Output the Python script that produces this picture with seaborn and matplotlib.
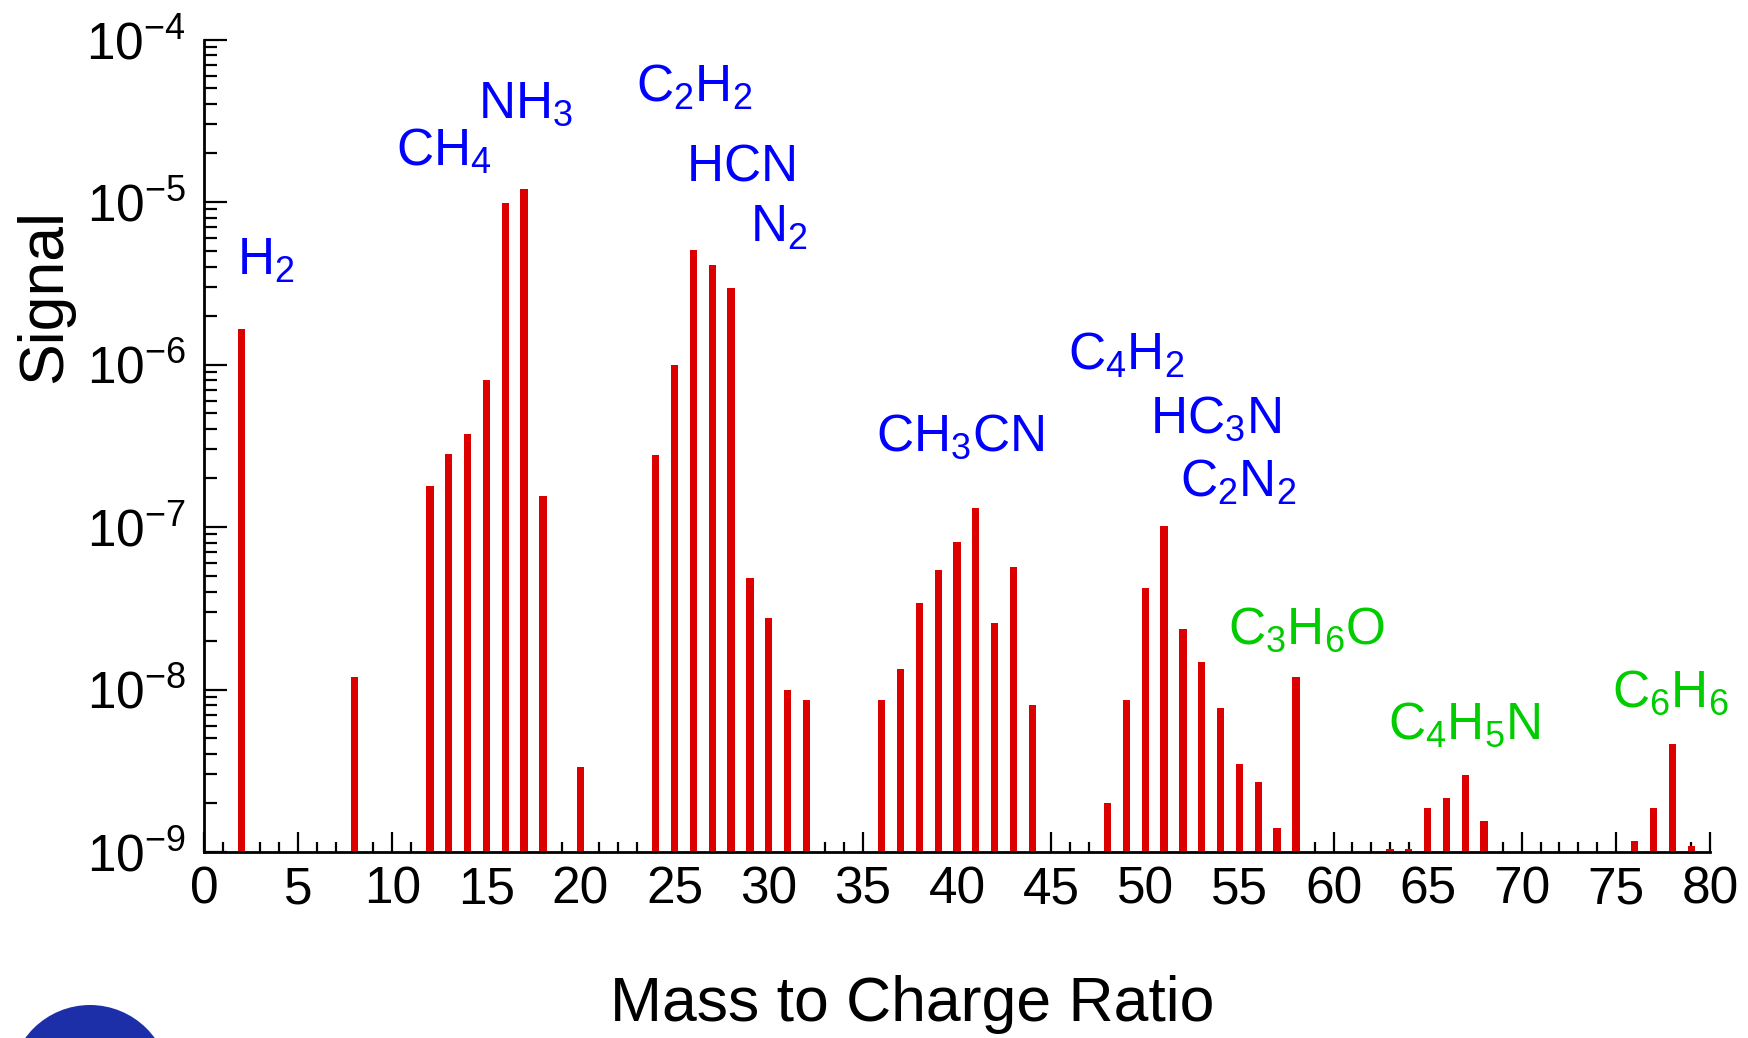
import numpy as np
import matplotlib
matplotlib.use("Agg")
import matplotlib.pyplot as plt
import matplotlib.ticker as ticker
from matplotlib.patches import Ellipse
import pandas as pd
import seaborn as sns

# mass spectrum values
masses = [2, 8, 12, 13, 14, 15, 16, 17, 18, 20,
          24, 25, 26, 27, 28, 29, 30, 31, 32,
          36, 37, 38, 39, 40, 41, 42, 43, 44,
          48, 49, 50, 51, 52, 53, 54, 55, 56, 57, 58,
          63, 64, 65, 66, 67, 68, 76, 77, 78, 79]
signal = [1.65e-6, 1.19e-8, 1.8e-7, 2.8e-7, 3.73e-7, 8.0e-7, 9.8e-6, 1.21e-5, 1.56e-7, 3.33e-9,
          2.77e-7, 1.0e-6, 5.1e-6, 4.1e-6, 2.97e-6, 4.87e-8, 2.74e-8, 9.9e-9, 8.6e-9,
          8.6e-9, 1.33e-8, 3.42e-8, 5.44e-8, 8.1e-8, 1.3e-7, 2.55e-8, 5.7e-8, 8.0e-9,
          2.0e-9, 8.6e-9, 4.23e-8, 1.01e-7, 2.37e-8, 1.47e-8, 7.7e-9, 3.46e-9, 2.68e-9, 1.4e-9, 1.19e-8,
          1.05e-9, 1.05e-9, 1.87e-9, 2.16e-9, 2.98e-9, 1.56e-9, 1.17e-9, 1.87e-9, 4.62e-9, 1.09e-9]

# molecule labels
species = [r"H_2", r"CH_4", r"NH_3", r"C_2H_2", r"HCN", r"N_2", r"CH_3CN",
           r"C_4H_2", r"HC_3N", r"C_2N_2", r"C_3H_6O", r"C_4H_5N", r"C_6H_6"]
species_group = ["blue"] * 10 + ["green"] * 3

# where the labels sit (data coords, left edge / baseline)
label_x = [1.77, 10.2, 14.57, 22.94, 25.6, 29.0, 35.7, 45.9, 50.24, 51.87, 54.39, 62.9, 74.8]
label_y = [3.6e-6, 1.67e-5, 3.3e-5, 4.14e-5, 1.36e-5, 5.7e-6, 2.95e-7,
           9.25e-7, 3.83e-7, 1.53e-7, 1.92e-8, 4.96e-9, 7.83e-9]

df = pd.DataFrame({"mass": masses, "signal": signal})

sns.set_style("ticks")
plt.rcParams['font.family'] = ['Liberation Sans', 'DejaVu Sans']
plt.rcParams['mathtext.fontset'] = 'custom'
plt.rcParams['mathtext.rm'] = 'Liberation Sans'
plt.rcParams['text.color'] = 'black'
plt.rcParams['axes.labelcolor'] = 'black'
plt.rcParams['xtick.color'] = 'black'
plt.rcParams['ytick.color'] = 'black'

fig = plt.figure(figsize=(17.48, 10.38), dpi=100)
ax = fig.add_axes([204 / 1748, 1 - 852 / 1038, 1506 / 1748, 812.5 / 1038])

# linear bars first, then switch the axis to log (bottoms get clipped)
sns.barplot(data=df, x="mass", y="signal", native_scale=True,
            color="#dd0000", saturation=1, width=0.39, linewidth=0,
            errorbar=None, ax=ax)
ax.set_yscale("log")

ax.set_xlim(0, 80)
ax.set_ylim(1e-9, 1e-4)

ax.xaxis.set_major_locator(ticker.MultipleLocator(5))
ax.xaxis.set_minor_locator(ticker.MultipleLocator(1))
ax.xaxis.set_major_formatter(ticker.FormatStrFormatter("%d"))
ax.yaxis.set_major_locator(ticker.LogLocator(base=10, numticks=10))
ax.yaxis.set_minor_locator(ticker.LogLocator(base=10, subs=np.arange(2, 10), numticks=20))
ax.yaxis.set_minor_formatter(ticker.NullFormatter())
ax.yaxis.set_major_formatter(ticker.FuncFormatter(
    lambda v, p: r"$\mathregular{10^{%d}}$" % int(round(np.log10(v)))))

ax.tick_params(axis="x", which="major", direction="in", length=14.5, width=1.6,
               labelsize=37, pad=10, color="black", labelcolor="black")
ax.tick_params(axis="x", which="minor", direction="in", length=7.5, width=1.6, color="black")
ax.tick_params(axis="y", which="major", direction="in", length=16.5, width=1.6,
               labelsize=37, pad=13, color="black", labelcolor="black")
ax.tick_params(axis="y", which="minor", direction="in", length=9.5, width=1.6, color="black")

sns.despine(ax=ax)
for s in ["left", "bottom"]:
    ax.spines[s].set_linewidth(2)
    ax.spines[s].set_color("black")

ax.set_xlabel("Mass to Charge Ratio", fontsize=45, color="black")
ax.set_ylabel("Signal", fontsize=45, color="black")
ax.xaxis.set_label_coords((912 - 204) / 1506, (852 - 975) / 812.5)
ax.yaxis.set_label_coords((74 - 204) / 1506, (852 - 296) / 812.5)
ax.xaxis.label.set_va("top")

colours = {"blue": "#0000ff", "green": "#00cc00"}
for name, grp, lx, ly in zip(species, species_group, label_x, label_y):
    ax.text(lx, ly, r"$\mathregular{%s}$" % name, color=colours[grp], fontsize=37,
            ha="left", va="baseline")

# bit of the logo peeking in at the bottom left
fig.patches.append(Ellipse((90 / 1748, 1 - 1085 / 1038), 160 / 1748, 160 / 1038,
                           transform=fig.transFigure, facecolor="#1c2fa8", edgecolor="none"))

fig.savefig("out.png", dpi=100)
